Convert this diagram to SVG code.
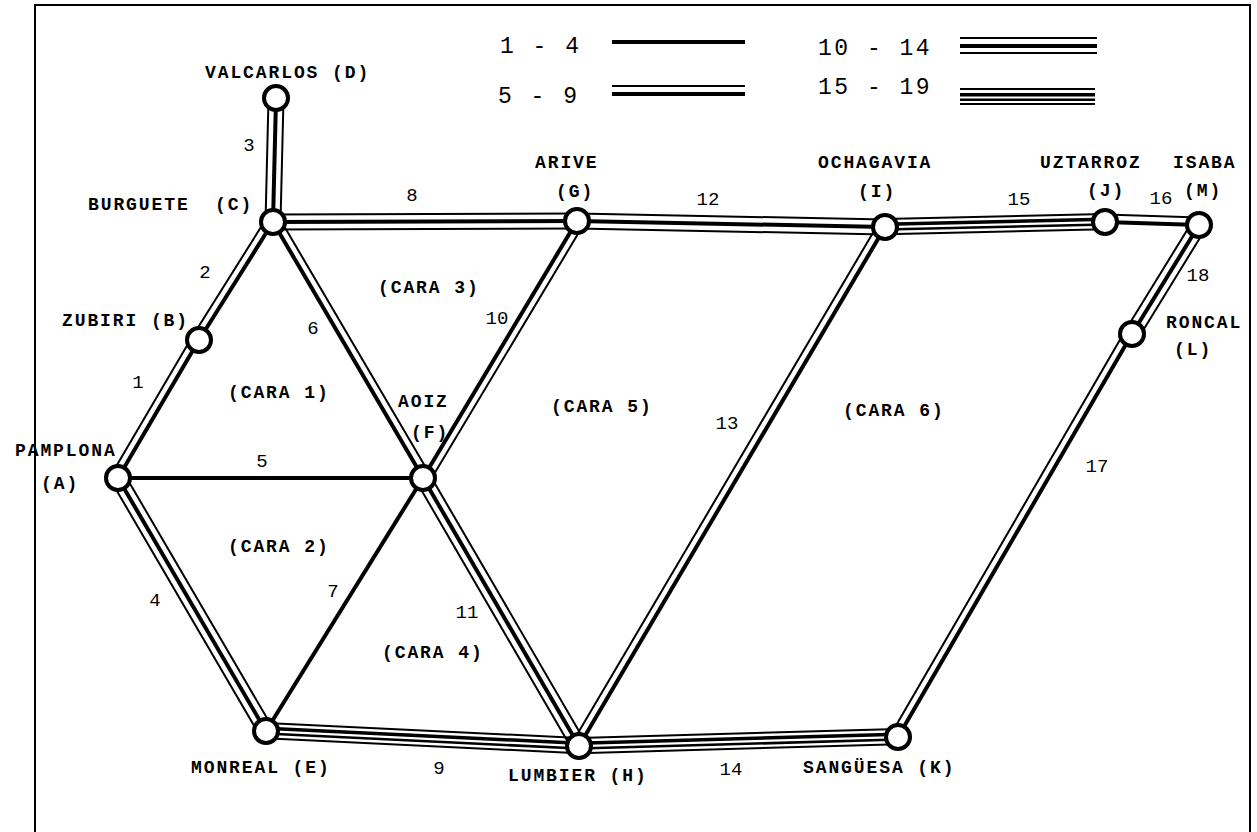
<svg xmlns="http://www.w3.org/2000/svg" xmlns:xlink="http://www.w3.org/1999/xlink" width="1257" height="832" viewBox="0 0 1257 832">
<style>
.lbl{font-family:"Liberation Mono","DejaVu Sans Mono",monospace;font-size:18px;font-weight:bold;letter-spacing:1.9px;fill:#000;white-space:pre}
.num{font-family:"Liberation Mono","DejaVu Sans Mono",monospace;font-size:19px;fill:#000;text-anchor:middle}
.leg{font-family:"Liberation Mono","DejaVu Sans Mono",monospace;font-size:23px;letter-spacing:2.5px;fill:#000;white-space:pre}
.node{fill:#fff;stroke:#000;stroke-width:4}
</style>
<defs>
<g id="single"><rect x="0" y="-2" width="1" height="4"/></g>
<g id="double"><rect x="0" y="-2" width="1" height="4"/><rect x="0" y="-8.5" width="1" height="2"/></g>
<g id="triple"><rect x="0" y="-8.5" width="1" height="2"/><rect x="0" y="-2" width="1" height="4"/><rect x="0" y="6.5" width="1" height="2"/></g>
<g id="quad"><rect x="0" y="-9" width="1" height="2"/><rect x="0" y="-4.5" width="1" height="3.5"/><rect x="0" y="1.2" width="1" height="2.6"/><rect x="0" y="6.2" width="1" height="2"/></g>
</defs>
<rect width="1257" height="832" fill="#fff"/>
<path d="M35,832 V5 H1250 V832" fill="none" stroke="#000" stroke-width="2"/>
<g id="legend">
<text class="leg" x="500" y="53">1 - 4</text>
<rect x="612" y="40" width="133" height="4"/>
<text class="leg" x="498" y="103">5 - 9</text>
<rect x="612" y="85" width="133" height="2"/>
<rect x="612" y="92" width="133" height="4"/>
<text class="leg" x="818" y="55">10 - 14</text>
<rect x="960" y="37" width="137" height="2"/>
<rect x="960" y="44" width="137" height="4"/>
<rect x="960" y="52" width="137" height="2"/>
<text class="leg" x="818" y="94">15 - 19</text>
<rect x="960" y="88" width="135" height="2"/>
<rect x="960" y="93" width="135" height="3.5"/>
<rect x="960" y="98.5" width="135" height="2.5"/>
<rect x="960" y="103" width="135" height="2"/>
</g>
<g id="connectors">
<use xlink:href="#double" transform="translate(118,478) rotate(-59.6) scale(160,1)"/>
<use xlink:href="#double" transform="translate(199,340) rotate(-57.9) scale(139.3,1)"/>
<use xlink:href="#triple" transform="translate(273,222) rotate(-88.6) scale(124,1)"/>
<use xlink:href="#triple" transform="translate(118,478) rotate(59.7) scale(293.1,1)"/>
<use xlink:href="#single" transform="translate(118,478) scale(305,1)"/>
<use xlink:href="#double" transform="translate(273,222) rotate(59.6) scale(296.7,1)"/>
<line x1="423" y1="478" x2="266" y2="731" stroke="#000" stroke-width="4"/>
<use xlink:href="#triple" transform="translate(273,222) rotate(-0.19) scale(304,1)"/>
<use xlink:href="#quad" transform="translate(266,731) rotate(2.74) scale(313.4,1)"/>
<use xlink:href="#double" transform="translate(423,478) rotate(-59.07) scale(299.6,-1)"/>
<use xlink:href="#triple" transform="translate(423,478) rotate(59.8) scale(310.1,1)"/>
<use xlink:href="#triple" transform="translate(577,221) rotate(1.12) scale(308.1,1)"/>
<use xlink:href="#double" transform="translate(579,746) rotate(-59.47) scale(602.5,1)"/>
<use xlink:href="#quad" transform="translate(579,746) rotate(-1.62) scale(319.1,1)"/>
<use xlink:href="#quad" transform="translate(885,227) rotate(-1.30) scale(220.1,1)"/>
<use xlink:href="#double" transform="translate(1105,222) rotate(1.83) scale(94.05,1)"/>
<use xlink:href="#double" transform="translate(898,737) rotate(-59.86) scale(466,1)"/>
<use xlink:href="#triple" transform="translate(1132,334) rotate(-58.4) scale(127.9,1)"/>
</g>
<g id="edge-labels">
<text class="num" x="138" y="388">1</text>
<text class="num" x="205" y="278">2</text>
<text class="num" x="249" y="151">3</text>
<text class="num" x="155" y="606">4</text>
<text class="num" x="262" y="467">5</text>
<text class="num" x="313" y="334">6</text>
<text class="num" x="333" y="597">7</text>
<text class="num" x="412" y="201">8</text>
<text class="num" x="439" y="774">9</text>
<text class="num" x="497" y="324">10</text>
<text class="num" x="467" y="618">11</text>
<text class="num" x="708" y="205">12</text>
<text class="num" x="727" y="429">13</text>
<text class="num" x="731" y="775">14</text>
<text class="num" x="1019" y="205">15</text>
<text class="num" x="1161" y="204">16</text>
<text class="num" x="1097" y="472">17</text>
<text class="num" x="1198" y="281">18</text>
</g>
<g id="faces">
<text class="lbl" x="378" y="293">(CARA 3)</text>
<text class="lbl" x="228" y="398">(CARA 1)</text>
<text class="lbl" x="551" y="412">(CARA 5)</text>
<text class="lbl" x="843" y="416">(CARA 6)</text>
<text class="lbl" x="228" y="552">(CARA 2)</text>
<text class="lbl" x="382" y="658">(CARA 4)</text>
</g>
<g id="node-A"><circle class="node" cx="118" cy="478" r="12"/><text class="lbl" x="15" y="456">PAMPLONA</text><text class="lbl" x="41" y="489">(A)</text></g>
<g id="node-B"><circle class="node" cx="199" cy="340" r="12"/><text class="lbl" x="62" y="326">ZUBIRI (B)</text></g>
<g id="node-C"><circle class="node" cx="273" cy="222" r="12"/><text class="lbl" x="88" y="210">BURGUETE  (C)</text></g>
<g id="node-D"><circle class="node" cx="276" cy="98" r="12"/><text class="lbl" x="205" y="78">VALCARLOS (D)</text></g>
<g id="node-E"><circle class="node" cx="266" cy="731" r="12"/><text class="lbl" x="191" y="773">MONREAL (E)</text></g>
<g id="node-F"><circle class="node" cx="423" cy="478" r="12"/><text class="lbl" x="398" y="407">AOIZ</text><text class="lbl" x="411" y="438">(F)</text></g>
<g id="node-G"><circle class="node" cx="577" cy="221" r="12"/><text class="lbl" x="535" y="168">ARIVE</text><text class="lbl" x="556" y="197">(G)</text></g>
<g id="node-H"><circle class="node" cx="579" cy="746" r="12"/><text class="lbl" x="508" y="781">LUMBIER (H)</text></g>
<g id="node-I"><circle class="node" cx="885" cy="227" r="12"/><text class="lbl" x="818" y="168">OCHAGAVIA</text><text class="lbl" x="858" y="197">(I)</text></g>
<g id="node-J"><circle class="node" cx="1105" cy="222" r="12"/><text class="lbl" x="1040" y="168">UZTARROZ</text><text class="lbl" x="1087" y="196">(J)</text></g>
<g id="node-K"><circle class="node" cx="898" cy="737" r="12"/><text class="lbl" x="803" y="773">SANGÜESA (K)</text></g>
<g id="node-L"><circle class="node" cx="1132" cy="334" r="12"/><text class="lbl" x="1166" y="328">RONCAL</text><text class="lbl" x="1174" y="355">(L)</text></g>
<g id="node-M"><circle class="node" cx="1199" cy="225" r="12"/><text class="lbl" x="1173" y="168">ISABA</text><text class="lbl" x="1184" y="196">(M)</text></g>
</svg>
